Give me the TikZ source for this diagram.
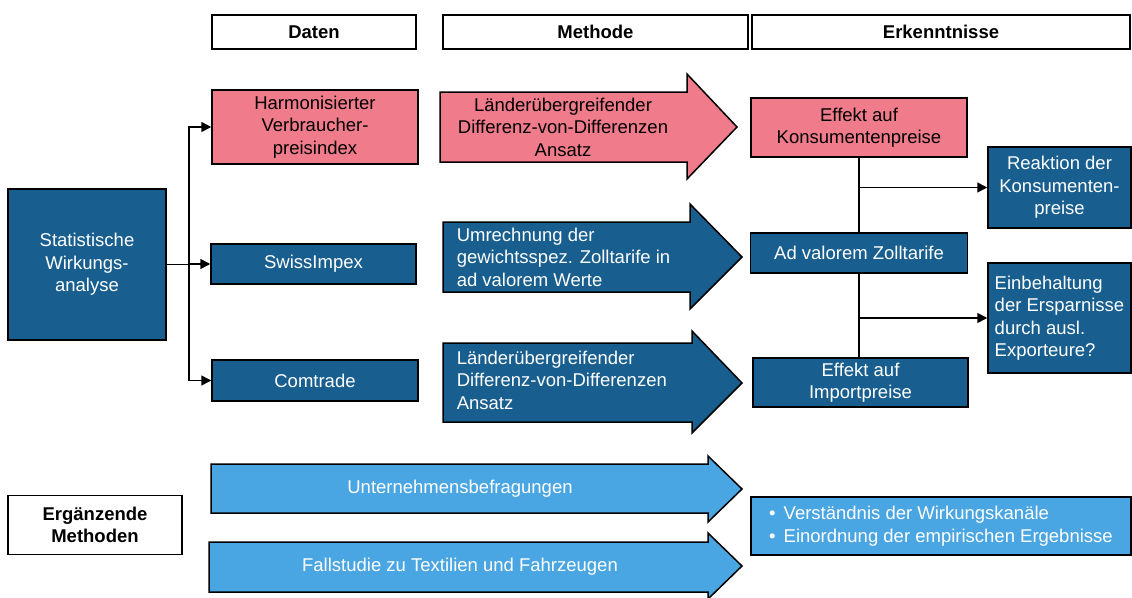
\documentclass[tikz,border=0pt]{standalone}
\usepackage{fontspec}
\setmainfont{Liberation Sans}
\usetikzlibrary{arrows.meta}
\definecolor{dunkelblau}{HTML}{185E8E}
\definecolor{rosa}{HTML}{F07B8A}
\definecolor{hellblau}{HTML}{4AA6E2}
\begin{document}
\begin{tikzpicture}[x=1pt, y=-1pt, line width=1.5pt,
  every node/.style={font=\fontsize{18.5}{22.5}\selectfont, inner sep=2pt}]
\tikzstyle{kasten}=[draw=black, align=center]
\tikzstyle{blau}=[kasten, fill=dunkelblau, text=white]
\tikzstyle{rot}=[kasten, fill=rosa, text=black]
\tikzstyle{kopf}=[kasten, fill=white, font=\fontsize{18.5}{22.5}\selectfont\bfseries]
\tikzstyle{pfeil}=[-{Triangle[length=10pt,width=10pt]}]
\tikzstyle{gross}=[draw=black]
\useasboundingbox (0,0) rectangle (1132,597);
% Kopfzeile
\node[kopf, minimum width=204, minimum height=34] (daten) at (314,32) {Daten};
\node[kopf, minimum width=305, minimum height=34] (methode) at (595.5,32) {Methode};
\node[kopf, minimum width=378, minimum height=34] (erkennt) at (941,32) {Erkenntnisse};
% Daten
\node[blau, minimum width=158, minimum height=151] (stat) at (87,264.5) {Statistische\\Wirkungs-\\analyse};
\node[rot, minimum width=206, minimum height=74] (hvpi) at (315,127) {Harmonisierter\\Verbraucher-\\preisindex};
\node[blau, minimum width=205, minimum height=40] (swiss) at (313.5,264) {SwissImpex};
\node[blau, minimum width=206, minimum height=41] (comtrade) at (315,380.5) {Comtrade};
\coordinate (gabel) at (189,264.5);
\draw (stat.east) -- (gabel);
\draw[pfeil] (gabel) |- (hvpi.west);
\draw[pfeil] (gabel) |- (swiss.west);
\draw[pfeil] (gabel) |- (comtrade.west);
% Methode
\draw[gross, fill=rosa] (440,92) -- (687,92) -- (687,74) -- (737,127) -- (687,179) -- (687,162) -- (440,162) -- cycle;
\node[align=center] (did1) at (563,127) {Länderübergreifender\\Differenz-von-Differenzen\\Ansatz};
\draw[gross, fill=dunkelblau] (443,222) -- (690,222) -- (690,204) -- (742,257) -- (690,309) -- (690,292) -- (443,292) -- cycle;
\node[anchor=west, align=left, text=white] (umrech) at (454,257) {Umrechnung der\\gewichtsspez. Zolltarife in\\ad valorem Werte};
\draw[gross, fill=dunkelblau] (443,343) -- (692,343) -- (692,331) -- (742,383) -- (692,433) -- (692,422) -- (443,422) -- cycle;
\node[anchor=west, align=left, text=white] (did2) at (454,380) {Länderübergreifender\\Differenz-von-Differenzen\\Ansatz};
% Erkenntnisse
\node[rot, minimum width=216, minimum height=59] (kpreis) at (859,127.5) {Effekt auf\\Konsumentenpreise};
\node[blau, minimum width=217, minimum height=40] (advalorem) at (859,253) {Ad valorem Zolltarife};
\node[blau, minimum width=215, minimum height=49] (ipreis) at (860.5,382.5) {Effekt auf\\Importpreise};
\node[blau, minimum width=143, minimum height=81] (reaktion) at (1059.5,187.5) {Reaktion der\\Konsumenten-\\preise};
\node[blau, align=left, minimum width=143, minimum height=110] (einbeh) at (1059.5,318) {Einbehaltung\\der Ersparnisse\\durch ausl.\\Exporteure?};
\draw (kpreis.south) -- (kpreis.south |- advalorem.north);
\draw (advalorem.south) -- (advalorem.south |- ipreis.north);
\draw[pfeil] (kpreis.south |- reaktion.west) -- (reaktion.west);
\draw[pfeil] (advalorem.south |- einbeh.west) -- (einbeh.west);
% Ergaenzende Methoden
\node[kopf, minimum width=174, minimum height=59] (ergaenz) at (95,525) {Ergänzende\\Methoden};
\draw[gross, fill=hellblau] (211,464) -- (708,464) -- (708,456) -- (742,489) -- (708,522) -- (708,513) -- (211,513) -- cycle;
\node[text=white] (befrag) at (460,489) {Unternehmensbefragungen};
\draw[gross, fill=hellblau] (209,542) -- (708,542) -- (708,533) -- (742,566) -- (708,599) -- (708,592) -- (209,592) -- cycle;
\node[text=white] (fall) at (460,567) {Fallstudie zu Textilien und Fahrzeugen};
\node[kasten, fill=hellblau, text=white, align=left, minimum width=380, minimum height=58] (ergeb) at (941,526)
  {\textbullet\hspace{8pt}Verständnis der Wirkungskanäle\\\textbullet\hspace{8pt}Einordnung der empirischen Ergebnisse};
\end{tikzpicture}
\end{document}
